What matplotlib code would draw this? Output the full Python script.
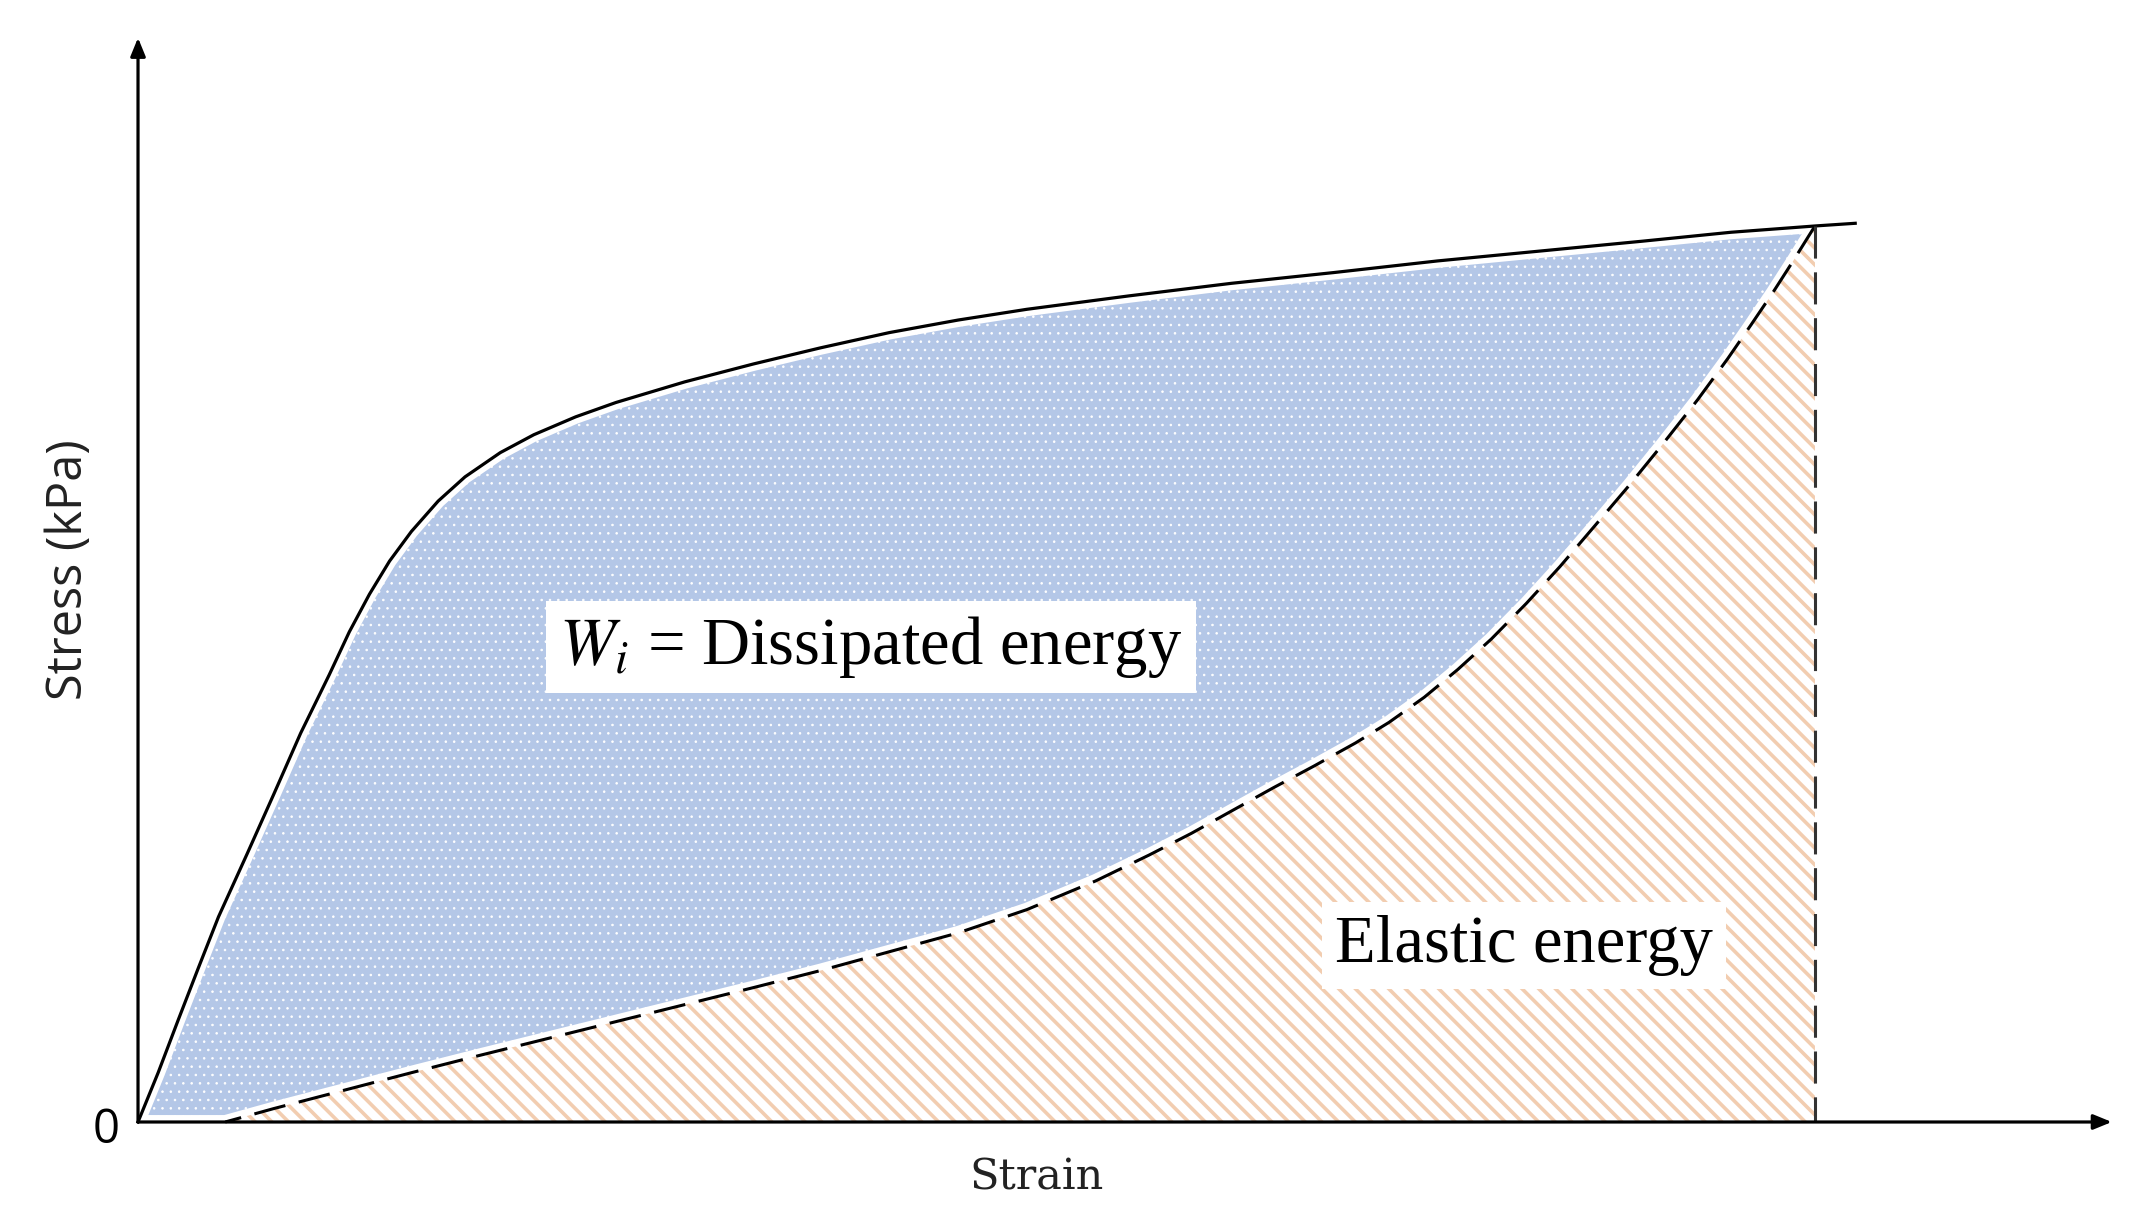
import numpy as np
import matplotlib.pyplot as plt
import matplotlib as mpl

# loading curve (strain, stress), normalised so the peak is (1, 1)
load_strain = [0.000, 0.012, 0.024, 0.036, 0.048, 0.065, 0.081, 0.097, 0.114,
               0.126, 0.138, 0.150, 0.163, 0.179, 0.195, 0.216, 0.236, 0.261,
               0.285, 0.326, 0.367, 0.407, 0.448, 0.489, 0.530, 0.591, 0.652,
               0.713, 0.775, 0.836, 0.897, 0.950, 1.000, 1.024]
load_stress = [0.000, 0.055, 0.114, 0.172, 0.229, 0.299, 0.366, 0.434, 0.499,
               0.547, 0.589, 0.626, 0.659, 0.693, 0.720, 0.747, 0.767, 0.787,
               0.803, 0.826, 0.846, 0.864, 0.881, 0.895, 0.907, 0.922, 0.936,
               0.948, 0.961, 0.972, 0.983, 0.993, 1.000, 1.003]

# unloading curve, from the peak back to zero stress
unload_strain = [1.000, 0.987, 0.975, 0.962, 0.948, 0.930, 0.909, 0.889, 0.869,
                 0.848, 0.828, 0.807, 0.787, 0.767, 0.746, 0.726, 0.701, 0.677,
                 0.652, 0.628, 0.603, 0.571, 0.530, 0.489, 0.448, 0.407, 0.367,
                 0.326, 0.285, 0.244, 0.203, 0.163, 0.122, 0.081, 0.052]
unload_stress = [1.000, 0.961, 0.926, 0.890, 0.852, 0.806, 0.756, 0.710, 0.666,
                 0.620, 0.579, 0.539, 0.505, 0.474, 0.446, 0.423, 0.397, 0.373,
                 0.347, 0.322, 0.298, 0.269, 0.237, 0.211, 0.190, 0.169, 0.150,
                 0.131, 0.112, 0.093, 0.074, 0.055, 0.035, 0.015, 0.000]

peak_strain = 1.0
peak_stress = 1.0

blue = '#b4c7e7'
peach = '#f2cdb0'

plt.rcParams['mathtext.fontset'] = 'stix'

fig = plt.figure(figsize=(21.46, 12.15), dpi=100)
ax = fig.add_axes([0, 0, 1, 1])
ax.set_xlim(-0.0823, 1.1974)
ax.set_ylim(-0.1038, 1.2522)
ax.set_axis_off()

ls = np.array(load_strain)
lt = np.array(load_stress)
us = np.array(unload_strain)
ut = np.array(unload_stress)

# dissipated energy: loop between loading and unloading
mask = ls <= peak_strain
dx = np.concatenate([ls[mask], us])
dy = np.concatenate([lt[mask], ut])
with mpl.rc_context({'hatch.linewidth': 0.6}):
    ax.fill(dx, dy, facecolor=blue, edgecolor='white', linewidth=10,
            hatch='..', joinstyle='round', zorder=1)

# elastic energy: area under unloading curve
ex = np.concatenate([us, [peak_strain]])
ey = np.concatenate([ut, [0.0]])
with mpl.rc_context({'hatch.linewidth': 2.6}):
    ax.fill(ex, ey, facecolor='white', edgecolor=peach, linewidth=0,
            hatch='\\\\', zorder=2)

ax.plot(ls, lt, color='black', lw=2.3, zorder=3)
ax.plot(us, ut, color='black', lw=2.2, dashes=(10.5, 4.5), zorder=3)
ax.plot([peak_strain, peak_strain], [peak_stress, 0], color='#333333', lw=2.2,
        dashes=(10.5, 4.5), zorder=3)

# axes with arrows
arr = dict(arrowstyle='-|>,head_length=1.1,head_width=0.45', color='black',
           lw=2.3, shrinkA=0, shrinkB=0)
ax.annotate('', xy=(1.177, 0), xytext=(0, 0), arrowprops=arr, zorder=4)
ax.annotate('', xy=(0, 1.210), xytext=(0, 0), arrowprops=arr, zorder=4)

ax.text(-0.011, -0.009, '0', fontsize=34, family='Open Sans', ha='right',
        va='center', zorder=5)
ax.text(0.536, -0.062, 'Strain', fontsize=31, family='DejaVu Serif',
        ha='center', va='center', color='#222222')
ax.text(-0.041, 0.616, 'Stress (kPa)', fontsize=35, family='Open Sans',
        rotation=90, ha='center', va='center', color='#222222')

ax.text(0.437, 0.530, r'$W_i$ = Dissipated energy', fontsize=48,
        family='Liberation Serif', ha='center', va='center', zorder=6,
        bbox=dict(boxstyle='square,pad=0.2', facecolor='white', edgecolor='none'))
ax.text(0.8265, 0.197, 'Elastic energy', fontsize=48,
        family='Liberation Serif', ha='center', va='center', zorder=6,
        bbox=dict(boxstyle='square,pad=0.2', facecolor='white', edgecolor='none'))

plt.savefig('out.png', dpi=100)
